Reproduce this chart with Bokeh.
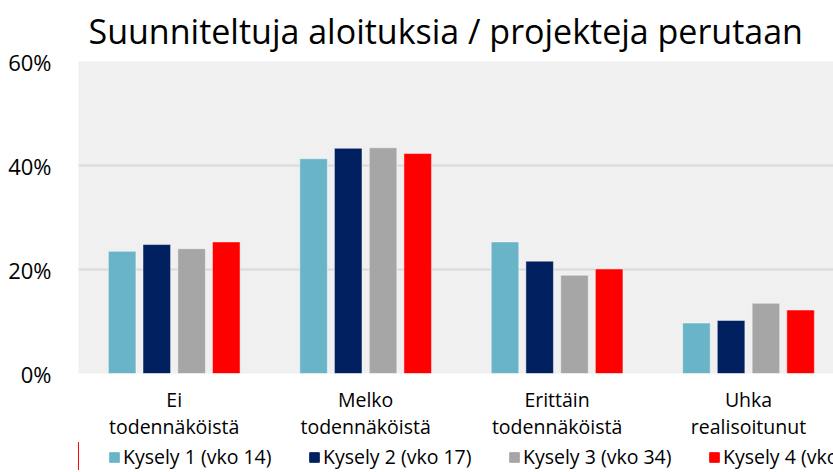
from bokeh.plotting import figure
from bokeh.layouts import column
from bokeh.models import Range1d, FixedTicker, PrintfTickFormatter, Legend, LegendItem, ColumnDataSource
from bokeh.embed import file_html
from bokeh.resources import INLINE

categories = ["Ei\ntodennäköistä", "Melko\ntodennäköistä", "Erittäin\ntodennäköistä", "Uhka\nrealisoitunut"]
series_names = ["Kysely 1 (vko 14)", "Kysely 2 (vko 17)", "Kysely 3 (vko 34)", "Kysely 4 (vko 47)"]
kysely1 = [23.5, 41.3, 25.3, 9.7]
kysely2 = [24.8, 43.3, 21.6, 10.2]
kysely3 = [24.0, 43.4, 18.9, 13.5]
kysely4 = [25.3, 42.3, 20.1, 12.2]
y_ticks = [0, 20, 40, 60]

colors = ["#6AB4C8", "#002060", "#A6A6A6", "#FF0000"]
FONT = "Open Sans"

p = figure(frame_width=755, frame_height=312, x_range=Range1d(0, 3.944), y_range=Range1d(0, 60),
           output_backend="svg", toolbar_location=None,
           min_border_left=78, min_border_right=0, min_border_top=61, min_border_bottom=0)

p.title.text = "Suunniteltuja aloituksia / projekteja perutaan"
p.title.text_font = FONT
p.title.text_font_size = "34px"
p.title.text_font_style = "normal"
p.title.text_color = "#000000"
p.title.align = "left"
p.title.vertical_align = "top"
p.title.offset = 10
p.title.standoff = 12

p.background_fill_color = "#F0F0F0"
p.border_fill_color = "white"
p.outline_line_color = None

# small legend strip below the chart
p2 = figure(width=833, height=28, x_range=Range1d(100, 101), y_range=Range1d(0, 1),
            output_backend="svg", toolbar_location=None, x_axis_type=None, y_axis_type=None,
            min_border_left=0, min_border_right=0, min_border_top=0, min_border_bottom=0)
p2.outline_line_color = None
p2.background_fill_color = "white"
p2.border_fill_color = "white"

offsets = [-0.272, -0.091, 0.091, 0.272]
items = []
for vals, name, col, off in zip([kysely1, kysely2, kysely3, kysely4], series_names, colors, offsets):
    src = ColumnDataSource(dict(x=[i + 0.5 + off for i in range(len(categories))], top=vals))
    p.vbar(x="x", top="top", width=0.144, source=src, fill_color=col,
           line_color="white", line_alpha=0.45, line_width=1)
    r2 = p2.vbar(x="x", top="top", width=0.144, source=src, fill_color=col,
                 line_color=col, line_width=1)
    items.append(LegendItem(label=name, renderers=[r2]))

p.xaxis.ticker = FixedTicker(ticks=[i + 0.5 for i in range(len(categories))])
p.xaxis.major_label_overrides = {i + 0.5: c for i, c in enumerate(categories)}
p.xaxis.axis_line_color = None
p.xaxis.major_tick_line_color = None
p.xaxis.minor_tick_line_color = None
p.xaxis.major_label_text_font = FONT
p.xaxis.major_label_text_font_size = "19.5px"
p.xaxis.major_label_text_line_height = 1.0
p.xaxis.major_label_text_color = "#000000"
p.xaxis.major_label_standoff = 6
p.xgrid.grid_line_color = None

p.yaxis.ticker = FixedTicker(ticks=y_ticks)
p.yaxis.formatter = PrintfTickFormatter(format="%d%%")
p.yaxis.axis_line_color = None
p.yaxis.major_tick_line_color = None
p.yaxis.minor_tick_line_color = None
p.yaxis.major_label_text_font = FONT
p.yaxis.major_label_text_font_size = "22px"
p.yaxis.major_label_text_color = "#000000"
p.yaxis.major_label_standoff = 21
p.ygrid.grid_line_color = "#D9D9D9"
p.ygrid.grid_line_width = 2

legend = Legend(items=items, orientation="horizontal", location=(30, 0))
legend.label_text_font = FONT
legend.label_text_font_size = "19.5px"
legend.label_text_color = "#000000"
legend.glyph_width = 12
legend.glyph_height = 12
legend.label_standoff = 3
legend.label_width = 185
legend.spacing = 0
legend.padding = 0
legend.margin = 0
legend.border_line_color = None
legend.background_fill_alpha = 0
p2.add_layout(legend, "center")

layout = column(p, p2, spacing=0)
open("out.html", "w").write(file_html(layout, INLINE))
